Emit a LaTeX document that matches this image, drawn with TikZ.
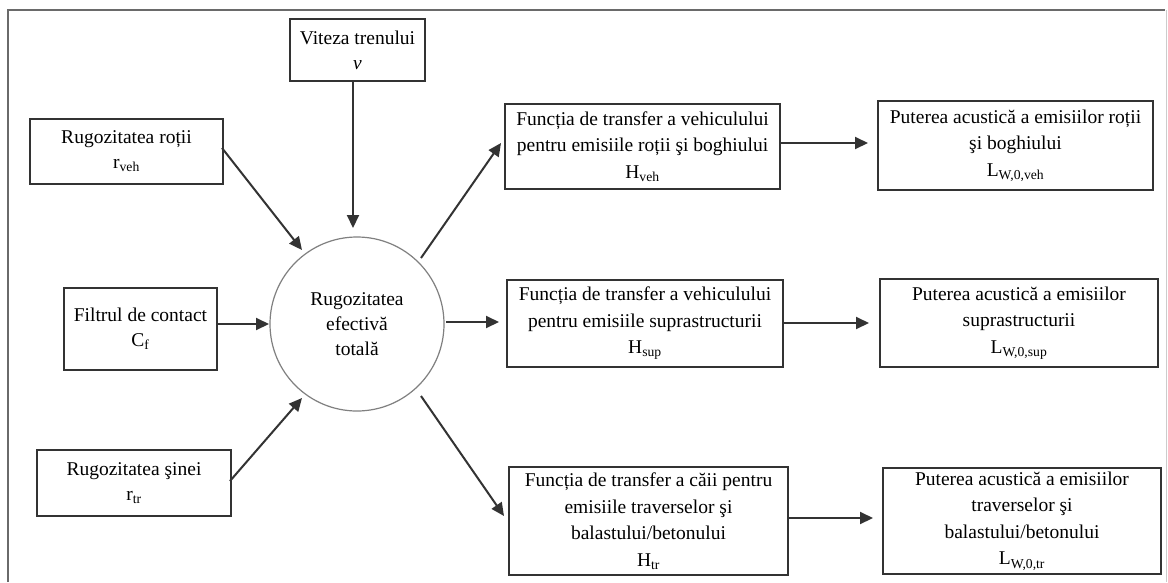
\documentclass[tikz,border=0pt]{standalone}
\usepackage{fontspec}
\setmainfont{Liberation Serif}
\usetikzlibrary{arrows.meta}
\definecolor{boxline}{HTML}{333333}
\definecolor{frameline}{HTML}{6A6A6A}
\begin{document}
\begin{tikzpicture}[x=1pt,y=-1pt,
  box/.style={draw=boxline,line width=2pt,align=center,inner sep=0pt,
    font=\fontsize{19.5}{25}\selectfont,anchor=north west},
  tall/.style={font=\fontsize{19.5}{26.5}\selectfont},
  conn/.style={draw=boxline,line width=2pt,-{Triangle[length=13pt,width=12pt]}}]
\useasboundingbox (0,0) rectangle (1168,582);
\fill[white] (0,0) rectangle (1168,582);
% frame
\draw[frameline,line width=1.6pt] (8,582) -- (8,10) -- (1165,10);
\draw[gray!40,line width=1pt] (1166,10) -- (1166,582);
% nodes
\node[box,minimum width=135pt,minimum height=62pt] (v) at (289,18) {Viteza trenului\\\textit{v}};
\node[box,minimum width=193pt,minimum height=65pt] (rv) at (29,118) {Rugozitatea roții\\r\textsubscript{veh}};
\node[box,minimum width=153pt,minimum height=82pt] (cf) at (63,287) {Filtrul de contact\\C\textsubscript{f}};
\node[box,minimum width=194pt,minimum height=66pt] (rt) at (36,449) {Rugozitatea şinei\\r\textsubscript{tr}};
\node[draw=gray,line width=1.2pt,circle,minimum size=174pt,inner sep=0pt,align=center,
  font=\fontsize{19.5}{25}\selectfont] (c) at (357,324) {Rugozitatea\\efectivă\\totală};
\node[box,tall,minimum width=275pt,minimum height=85pt] (hv) at (504,103) {Funcția de transfer a vehiculului\\pentru emisiile roții şi boghiului\\H\textsubscript{veh}};
\node[box,tall,minimum width=276pt,minimum height=87pt] (hs) at (506,279) {Funcția de transfer a vehiculului\\pentru emisiile suprastructurii\\H\textsubscript{sup}};
\node[box,tall,minimum width=279pt,minimum height=108pt] (ht) at (508,466) {Funcția de transfer a căii pentru\\emisiile traverselor şi\\balastului/betonului\\H\textsubscript{tr}};
\node[box,tall,minimum width=275pt,minimum height=89pt] (lv) at (877,100) {Puterea acustică a emisiilor roții\\şi boghiului\\L\textsubscript{W,0,veh}};
\node[box,tall,minimum width=278pt,minimum height=88pt] (ls) at (879,278) {Puterea acustică a emisiilor\\suprastructurii\\L\textsubscript{W,0,sup}};
\node[box,tall,minimum width=278pt,minimum height=106pt] (lt) at (882,467) {Puterea acustică a emisiilor\\traverselor şi\\balastului/betonului\\L\textsubscript{W,0,tr}};
% helper coordinates
\coordinate (vS) at (353,80);
\coordinate (cT) at (353,228);
\coordinate (rvE) at (222,148);
\coordinate (cRV) at (302,250);
\coordinate (cfE) at (216,324);
\coordinate (cCF) at (269,324);
\coordinate (rtE) at (230,481);
\coordinate (cRT) at (302,398);
\coordinate (cHV) at (421,258);
\coordinate (hvW) at (501,143);
\coordinate (cHS) at (446,322);
\coordinate (hsW) at (499,322);
\coordinate (cHT) at (421,396);
\coordinate (htW) at (504,516);
\coordinate (hvE) at (779,143);
\coordinate (lvW) at (868,143);
\coordinate (hsE) at (782,323);
\coordinate (lsW) at (869,323);
\coordinate (htE) at (787,518);
\coordinate (ltW) at (873,518);
% connectors
\draw[conn] (vS) -- (cT);
\draw[conn] (rvE) -- (cRV);
\draw[conn] (cfE) -- (cCF);
\draw[conn] (rtE) -- (cRT);
\draw[conn] (cHV) -- (hvW);
\draw[conn] (cHS) -- (hsW);
\draw[conn] (cHT) -- (htW);
\draw[conn] (hvE) -- (lvW);
\draw[conn] (hsE) -- (lsW);
\draw[conn] (htE) -- (ltW);
\end{tikzpicture}
\end{document}
